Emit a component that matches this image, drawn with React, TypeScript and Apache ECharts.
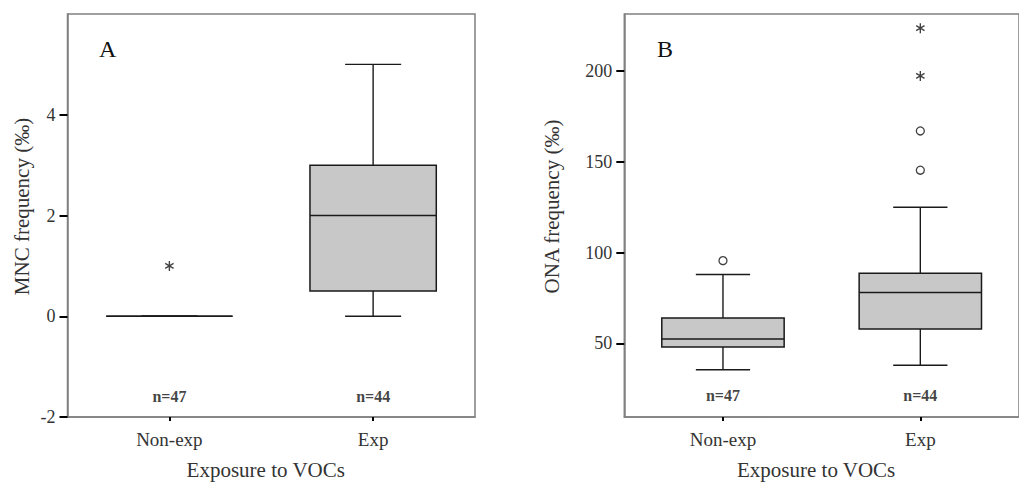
import React, { useEffect, useRef } from "react";
import * as echarts from "echarts";

const categories = ["Non-exp", "Exp"];

// [min, Q1, median, Q3, max]
const boxA = [
  [0, 0, 0, 0, 0],
  [0, 0.5, 2, 3, 5],
];
const boxB = [
  [35.5, 48, 52.5, 64, 88],
  [38, 58, 78, 88.6, 125],
];

const extremesA = [["Non-exp", 1]];
const outliersA: (string | number)[][] = [];
const outliersB = [
  ["Non-exp", 95.6],
  ["Exp", 145.4],
  ["Exp", 167],
];
const extremesB = [
  ["Exp", 197.3],
  ["Exp", 223.6],
];

const nLabels = ["n=47", "n=44"];
const nLabelYA = -1.6;
const nLabelYB = 21.4;

const ticksA = [-2, 0, 2, 4];
const ticksB = [50, 100, 150, 200];

const FONT = "Liberation Serif, Times New Roman, serif";
const STAR =
  "path://M-0.7 5 L0.7 5 L0.7 -5 L-0.7 -5 Z M3.98 3.106 L4.68 1.894 L-3.98 -3.106 L-4.68 -1.894 Z M-4.68 1.894 L-3.98 3.106 L4.68 -1.894 L3.98 -3.106 Z";

function renderBox(params: any, api: any) {
  const x = api.value(0);
  const lo = api.coord([x, api.value(1)]);
  const q1 = api.coord([x, api.value(2)]);
  const md = api.coord([x, api.value(3)]);
  const q3 = api.coord([x, api.value(4)]);
  const hi = api.coord([x, api.value(5)]);
  const band = api.size([1, 0])[0];
  const bw = band * 0.62;
  const cw = band * 0.275;
  const cx = lo[0];
  const ln = { stroke: "#1a1a1a", lineWidth: 1.4 };
  return {
    type: "group",
    children: [
      { type: "line", shape: { x1: cx, y1: lo[1], x2: cx, y2: q1[1] }, style: ln },
      { type: "line", shape: { x1: cx, y1: q3[1], x2: cx, y2: hi[1] }, style: ln },
      { type: "line", shape: { x1: cx - cw / 2, y1: lo[1], x2: cx + cw / 2, y2: lo[1] }, style: ln },
      { type: "line", shape: { x1: cx - cw / 2, y1: hi[1], x2: cx + cw / 2, y2: hi[1] }, style: ln },
      {
        type: "rect",
        shape: { x: cx - bw / 2, y: q3[1], width: bw, height: q1[1] - q3[1] },
        style: { fill: "#c8c8c8", stroke: "#1a1a1a", lineWidth: 1.5 },
      },
      { type: "line", shape: { x1: cx - bw / 2, y1: md[1], x2: cx + bw / 2, y2: md[1] }, style: { stroke: "#1a1a1a", lineWidth: 1.5 } },
    ],
  };
}

function makeXAxis(gridIndex: number) {
  return {
    type: "category",
    gridIndex,
    data: categories,
    boundaryGap: true,
    axisLine: { show: true, onZero: false, lineStyle: { color: "#808080", width: 1.5 } },
    axisTick: { show: true, alignWithLabel: true, length: 4, lineStyle: { color: "#000", width: 2 } },
    axisLabel: { color: "#333", fontSize: 19, fontFamily: FONT, margin: 13 },
    name: "Exposure to VOCs",
    nameLocation: "middle",
    nameGap: 42,
    nameTextStyle: { color: "#333", fontSize: 21, fontFamily: FONT, padding: [0, 11, 0, 0] },
    splitLine: { show: false },
  };
}

function makeYAxis(gridIndex: number, min: number, max: number, ticks: number[], name: string, gap: number) {
  return {
    type: "value",
    gridIndex,
    min,
    max,
    name,
    nameLocation: "middle",
    nameGap: gap,
    nameTextStyle: { color: "#333", fontSize: 21, fontFamily: FONT, padding: [0, 0, 0, 18] },
    axisLine: { show: true, onZero: false, lineStyle: { color: "#808080", width: 1.5 } },
    axisTick: { show: true, length: 8, customValues: ticks, lineStyle: { color: "#000", width: 2 } },
    axisLabel: { color: "#333", fontSize: 18, fontFamily: FONT, margin: 12, customValues: ticks },
    splitLine: { show: false },
  };
}

function buildBoxData(box: number[][]) {
  return box.map((b, i) => [i, ...b]);
}

export default function App() {
  const ref = useRef<HTMLDivElement>(null);
  useEffect(() => {
    if (!ref.current) return;
    const chart = echarts.init(ref.current, null, { renderer: "svg" });
    const nData = (y: number) => categories.map((c, i) => ({ value: [c, y], name: nLabels[i] }));
    const nLabelStyle = {
      show: true,
      position: "inside",
      formatter: (p: any) => p.name,
      color: "#111",
      fontSize: 16,
      fontWeight: "bold",
      fontFamily: FONT,
    };
    chart.setOption({
      animation: false,
      backgroundColor: "#fff",
      grid: [
        { left: 67.5, top: 14, width: 407.5, height: 408, show: true, borderColor: "#808080", borderWidth: 1.5, containLabel: false },
        { left: 624.3, top: 14, width: 408, height: 408, show: true, borderColor: "#808080", borderWidth: 1.5, containLabel: false },
      ],
      xAxis: [makeXAxis(0), makeXAxis(1)],
      yAxis: [
        makeYAxis(0, -2, 6, ticksA, "MNC frequency (‰)", 35),
        makeYAxis(1, 9.5, 231.4, ticksB, "ONA frequency (‰)", 62),
      ],
      graphic: [
        { type: "text", left: 99, top: 37, style: { text: "A", fontSize: 24, fontFamily: FONT, fill: "#111" } },
        { type: "text", left: 657, top: 37, style: { text: "B", fontSize: 24, fontFamily: FONT, fill: "#111" } },
      ],
      series: [
        {
          type: "custom",
          xAxisIndex: 0,
          yAxisIndex: 0,
          renderItem: renderBox,
          encode: { x: 0, y: [1, 2, 3, 4, 5] },
          data: buildBoxData(boxA),
        },
        {
          type: "custom",
          xAxisIndex: 1,
          yAxisIndex: 1,
          renderItem: renderBox,
          encode: { x: 0, y: [1, 2, 3, 4, 5] },
          data: buildBoxData(boxB),
        },
        {
          type: "scatter",
          xAxisIndex: 0,
          yAxisIndex: 0,
          symbol: STAR,
          symbolSize: [9, 10],
          itemStyle: { color: "#111" },
          data: extremesA,
        },
        {
          type: "scatter",
          xAxisIndex: 0,
          yAxisIndex: 0,
          symbol: "circle",
          symbolSize: 8,
          itemStyle: { color: "#fff", borderColor: "#111", borderWidth: 1.3 },
          data: outliersA,
        },
        {
          type: "scatter",
          xAxisIndex: 1,
          yAxisIndex: 1,
          symbol: STAR,
          symbolSize: [9, 10],
          itemStyle: { color: "#111" },
          data: extremesB,
        },
        {
          type: "scatter",
          xAxisIndex: 1,
          yAxisIndex: 1,
          symbol: "circle",
          symbolSize: 8,
          itemStyle: { color: "#fff", borderColor: "#111", borderWidth: 1.3 },
          data: outliersB,
        },
        {
          type: "scatter",
          xAxisIndex: 0,
          yAxisIndex: 0,
          symbolSize: 0,
          label: nLabelStyle,
          data: nData(nLabelYA),
        },
        {
          type: "scatter",
          xAxisIndex: 1,
          yAxisIndex: 1,
          symbolSize: 0,
          label: nLabelStyle,
          data: nData(nLabelYB),
        },
      ],
    });
    return () => chart.dispose();
  }, []);
  return (
    <div
      ref={ref}
      style={{ position: "absolute", left: 0, top: 0, width: 1019, height: 485 }}
    />
  );
}
